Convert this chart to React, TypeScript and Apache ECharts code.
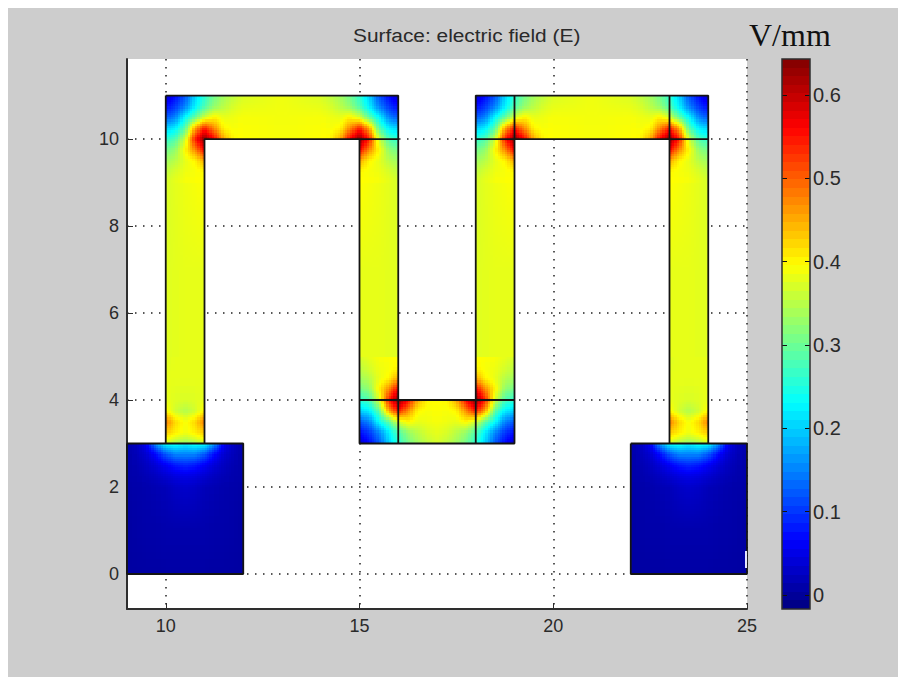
import React, { useEffect, useRef } from "react";
import * as echarts from "echarts";

// ---- tick labels
const xTicks = [10, 15, 20, 25];
const yTicks = [0, 2, 4, 6, 8, 10];
const barTicks = [0, 0.1, 0.2, 0.3, 0.4, 0.5, 0.6];
const fieldMin = -0.017;
const fieldMax = 0.643;
const titleText = "Surface: electric field (E)";
const unitText = "V/mm";

// ---- field values (V/mm)
// bend of the conductor: distance from outer corner along each side
const bendU = [0, 0.25, 0.5, 0.75, 1, 1.25, 1.5, 1.75, 2];
const bendField: (number | null)[][] = [
  [0.03, 0.07, 0.12, 0.20, 0.26, 0.305, 0.335, 0.355, 0.37],
  [0.07, 0.10, 0.15, 0.22, 0.28, 0.325, 0.35, 0.37, 0.38],
  [0.12, 0.15, 0.23, 0.29, 0.365, 0.40, 0.38, 0.385, 0.39],
  [0.20, 0.22, 0.29, 0.45, 0.54, 0.47, 0.40, 0.39, 0.395],
  [0.26, 0.28, 0.365, 0.54, 0.64, 0.56, 0.45, 0.40, 0.395],
  [0.305, 0.325, 0.40, 0.47, 0.56, null, null, null, null],
  [0.335, 0.35, 0.38, 0.40, 0.45, null, null, null, null],
  [0.355, 0.37, 0.385, 0.39, 0.40, null, null, null, null],
  [0.37, 0.38, 0.39, 0.395, 0.395, null, null, null, null],
];
// straight part of the top bars: across the bar, at three stations
const barAcross = [0, 0.5, 1];
const barField = [
  [0.37, 0.39, 0.395],
  [0.385, 0.388, 0.39],
  [0.37, 0.39, 0.395],
];
// legs: rows along the leg, columns across the leg (outer -> inner)
const legField = [
  [0.37, 0.385, 0.395],
  [0.375, 0.38, 0.38],
  [0.375, 0.38, 0.38],
];
// bottom of the outer legs
const footAcross = [0, 0.25, 0.5, 0.75, 1];
const footYs = [5, 4.5, 4, 3.75, 3.5, 3.25, 3];
const footField = [
  [0.375, 0.38, 0.38, 0.38, 0.38],
  [0.38, 0.38, 0.38, 0.38, 0.38],
  [0.38, 0.375, 0.37, 0.375, 0.38],
  [0.40, 0.365, 0.345, 0.365, 0.40],
  [0.48, 0.42, 0.39, 0.42, 0.48],
  [0.43, 0.405, 0.385, 0.405, 0.43],
  [0.37, 0.345, 0.33, 0.345, 0.37],
];
// contact pads: offset from pad centre, rows from the top of the pad
const padDx = [-1.5, -1.25, -1, -0.75, -0.5, -0.25, 0, 0.25, 0.5, 0.75, 1, 1.25, 1.5];
const padYs = [3, 2.75, 2.5, 2.25, 2, 1, 0];
const padField = [
  [0.01, 0.025, 0.06, 0.16, 0.23, 0.24, 0.22, 0.24, 0.23, 0.16, 0.06, 0.025, 0.01],
  [0.01, 0.02, 0.035, 0.07, 0.12, 0.15, 0.15, 0.15, 0.12, 0.07, 0.035, 0.02, 0.01],
  [0.01, 0.015, 0.025, 0.04, 0.06, 0.08, 0.09, 0.08, 0.06, 0.04, 0.025, 0.015, 0.01],
  [0.01, 0.012, 0.018, 0.025, 0.035, 0.045, 0.05, 0.045, 0.035, 0.025, 0.018, 0.012, 0.01],
  [0.008, 0.01, 0.012, 0.016, 0.02, 0.028, 0.032, 0.028, 0.02, 0.016, 0.012, 0.01, 0.008],
  [0.005, 0.008, 0.01, 0.01, 0.012, 0.012, 0.012, 0.012, 0.012, 0.01, 0.01, 0.008, 0.005],
  [0.005, 0.005, 0.006, 0.006, 0.007, 0.007, 0.007, 0.007, 0.007, 0.006, 0.006, 0.005, 0.005],
];
// where the pieces sit: [cornerX, cornerY, directionX, directionY]
const bends = [
  [10, 11, 1, -1],
  [16, 11, -1, -1],
  [18, 11, 1, -1],
  [24, 11, -1, -1],
  [15, 3, 1, 1],
  [19, 3, -1, 1],
];
// top bars: [startX, endX]
const barSpans = [
  [12, 14],
  [20, 22],
];
// legs: [outerX, innerX]
const legs = [
  [10, 11],
  [16, 15],
  [18, 19],
  [24, 23],
];
const footSpans = [
  [10, 11],
  [23, 24],
];
const padCentres = [10.5, 23.5];

// ---- mesh outlines
const outlines: number[][][] = [
  [[10, 11], [16, 11], [16, 3], [15, 3], [15, 10], [11, 10], [11, 3], [10, 3], [10, 11]],
  [[15, 10], [16, 10]],
  [[15, 3], [19, 3], [19, 11], [18, 11], [18, 3]],
  [[15, 4], [19, 4]],
  [[16, 3], [16, 4]],
  [[18, 11], [24, 11], [24, 3], [23, 3], [23, 11]],
  [[18, 10], [19, 10]],
  [[19, 10], [24, 10]],
  [[9, 3], [12, 3], [12, 0], [9, 0], [9, 3]],
  [[22, 3], [25, 3], [25, 0], [22, 0], [22, 3]],
];

// ---- jet colour map
const jetStops = [
  [0, 0, 128], [0, 0, 255], [0, 128, 255], [0, 255, 255], [128, 255, 128],
  [255, 255, 0], [255, 128, 0], [255, 0, 0], [128, 0, 0],
];
function jet(v: number): string {
  let t = (v - fieldMin) / (fieldMax - fieldMin);
  t = Math.max(0, Math.min(0.99999, t)) * (jetStops.length - 1);
  const i = Math.floor(t);
  const f = t - i;
  const a = jetStops[i];
  const b = jetStops[i + 1];
  const c = [0, 1, 2].map((k) => Math.round(a[k] + (b[k] - a[k]) * f));
  return `rgb(${c[0]},${c[1]},${c[2]})`;
}

// one cell: [x0, y0, x1, y1, v00, v10, v01, v11]
function pushCells(out: number[][], xs: number[], ys: number[], rows: (number | null)[][]) {
  for (let j = 0; j + 1 < ys.length; j++) {
    for (let i = 0; i + 1 < xs.length; i++) {
      const a = rows[j][i];
      const b = rows[j][i + 1];
      const c = rows[j + 1][i];
      const d = rows[j + 1][i + 1];
      if (a == null || b == null || c == null || d == null) continue;
      out.push([xs[i], ys[j], xs[i + 1], ys[j + 1], a, b, c, d]);
    }
  }
}

function buildCells(): number[][] {
  const out: number[][] = [];
  bends.forEach(([cx, cy, sx, sy]) => {
    pushCells(out, bendU.map((u) => cx + sx * u), bendU.map((w) => cy + sy * w), bendField);
  });
  barSpans.forEach(([x0, x1]) => {
    const xs = [x0, (x0 + x1) / 2, x1];
    const ys = barAcross.map((a) => 11 - a);
    const rows = ys.map((_, j) => barField.map((col) => col[j]));
    pushCells(out, xs, ys, rows);
  });
  legs.forEach(([outer, inner]) => {
    const xs = barAcross.map((a) => outer + (inner - outer) * a);
    pushCells(out, xs, [9, 7, 5], legField);
  });
  footSpans.forEach(([x0, x1]) => {
    const xs = footAcross.map((a) => x0 + (x1 - x0) * a);
    pushCells(out, xs, footYs, footField);
  });
  padCentres.forEach((c) => {
    pushCells(out, padDx.map((d) => c + d), padYs, padField);
  });
  return out;
}

function renderSurface(params: any, api: any) {
  const d = [0, 1, 2, 3, 4, 5, 6, 7].map((k) => api.value(k) as number);
  const p0 = api.coord([d[0], d[1]]);
  const p1 = api.coord([d[2], d[3]]);
  const spread = Math.max(d[4], d[5], d[6], d[7]) - Math.min(d[4], d[5], d[6], d[7]);
  const step = spread < 0.012 ? 8 : 2.5;
  const nx = Math.max(1, Math.ceil(Math.abs(p1[0] - p0[0]) / step));
  const ny = Math.max(1, Math.ceil(Math.abs(p1[1] - p0[1]) / step));
  const children: any[] = [];
  for (let j = 0; j < ny; j++) {
    const y0 = Math.round(p0[1] + ((p1[1] - p0[1]) * j) / ny);
    const y1 = Math.round(p0[1] + ((p1[1] - p0[1]) * (j + 1)) / ny);
    const fy = (j + 0.5) / ny;
    for (let i = 0; i < nx; i++) {
      const x0 = Math.round(p0[0] + ((p1[0] - p0[0]) * i) / nx);
      const x1 = Math.round(p0[0] + ((p1[0] - p0[0]) * (i + 1)) / nx);
      const fx = (i + 0.5) / nx;
      const v =
        d[4] * (1 - fx) * (1 - fy) + d[5] * fx * (1 - fy) + d[6] * (1 - fx) * fy + d[7] * fx * fy;
      children.push({
        type: "rect",
        shape: { x: Math.min(x0, x1), y: Math.min(y0, y1), width: Math.abs(x1 - x0), height: Math.abs(y1 - y0) },
        style: { fill: jet(v) },
      });
    }
  }
  return { type: "group", children };
}

function renderBar(params: any, api: any) {
  const lo = api.value(0);
  const hi = api.value(1);
  const p0 = api.coord([0, lo]);
  const p1 = api.coord([1, hi]);
  const y0 = Math.round(p1[1]);
  const y1 = Math.round(p0[1]);
  return {
    type: "rect",
    shape: { x: p0[0], y: y0, width: p1[0] - p0[0], height: y1 - y0 },
    style: { fill: jet((lo + hi) / 2) },
  };
}

const INK = "#2e2e2e";
const SANS = "'Liberation Sans', Arial, sans-serif";

export default function App() {
  const ref = useRef<HTMLDivElement>(null);
  useEffect(() => {
    document.documentElement.style.overflow = "hidden";
    const chart = echarts.init(ref.current!, undefined, { renderer: "svg", width: 890, height: 669 });
    const levels = 64;
    const barLevels: number[][] = [];
    for (let i = 0; i < levels; i++) {
      const w = (fieldMax - fieldMin) / levels;
      barLevels.push([fieldMin + i * w, fieldMin + (i + 1) * w]);
    }
    const outlineData: (number[] | null[])[] = [];
    outlines.forEach((o, i) => {
      if (i) outlineData.push([null, null] as any);
      o.forEach((p) => outlineData.push(p));
    });
    const dots = { color: "#222", width: 1.5, type: [1.5, 6.5] };
    chart.setOption({
      animation: false,
      backgroundColor: "#cdcdcd",
      grid: [
        { left: 119, top: 51, width: 620, height: 550, show: true, backgroundColor: "#ffffff", borderWidth: 0 },
        { left: 774, top: 51, width: 28, height: 550 },
      ],
      xAxis: [
        {
          type: "value",
          gridIndex: 0,
          min: 9,
          max: 25,
          axisLine: { show: true, onZero: false, lineStyle: { color: INK, width: 2 } },
          axisTick: { show: true, inside: true, length: 6, customValues: xTicks, lineStyle: { color: INK, width: 1 } },
          axisLabel: { customValues: xTicks, margin: 8, fontFamily: SANS, fontSize: 18, color: "#2a2a2a" },
          splitLine: { show: true, lineStyle: dots },
        },
        { type: "value", gridIndex: 1, min: 0, max: 1, show: false },
      ],
      yAxis: [
        {
          type: "value",
          gridIndex: 0,
          min: -0.805,
          max: 11.84,
          axisLine: { show: true, onZero: false, lineStyle: { color: INK, width: 2 } },
          axisTick: { show: true, inside: true, length: 6, customValues: yTicks, lineStyle: { color: INK, width: 1 } },
          axisLabel: { customValues: yTicks, margin: 8, fontFamily: SANS, fontSize: 18, color: "#2a2a2a" },
          splitLine: { show: true, lineStyle: dots },
        },
        {
          type: "value",
          gridIndex: 1,
          position: "left",
          min: fieldMin,
          max: fieldMax,
          z: 5,
          axisLine: { show: false },
          axisTick: { show: true, inside: true, length: 5, customValues: barTicks, lineStyle: { color: "#111", width: 1 } },
          axisLabel: { show: false },
          splitLine: { show: false },
        },
        {
          type: "value",
          gridIndex: 1,
          position: "right",
          min: fieldMin,
          max: fieldMax,
          z: 5,
          axisLine: { show: false },
          axisTick: { show: true, inside: true, length: 5, customValues: barTicks, lineStyle: { color: "#111", width: 1 } },
          axisLabel: { customValues: barTicks, margin: 3, fontFamily: SANS, fontSize: 20, color: "#2a2a2a" },
          splitLine: { show: false },
        },
      ],
      series: [
        {
          type: "custom",
          name: "E",
          xAxisIndex: 0,
          yAxisIndex: 0,
          silent: true,
          z: 2,
          clip: false,
          renderItem: renderSurface,
          encode: { x: [0, 2], y: [1, 3] },
          data: buildCells(),
        },
        {
          type: "line",
          name: "mesh",
          xAxisIndex: 0,
          yAxisIndex: 0,
          silent: true,
          z: 4,
          showSymbol: false,
          connectNulls: false,
          lineStyle: { color: "#141414", width: 1.8 },
          data: outlineData,
        },
        {
          type: "custom",
          name: "colorbar",
          xAxisIndex: 1,
          yAxisIndex: 1,
          silent: true,
          z: 2,
          renderItem: renderBar,
          encode: { y: [0, 1] },
          data: barLevels,
        },
      ],
      graphic: [
        {
          type: "text",
          x: 345,
          y: 19,
          scaleX: 1.16,
          style: { text: titleText, font: "18px 'Liberation Sans', Arial, sans-serif", fill: "#2a2a2a" },
        },
        {
          type: "text",
          x: 741,
          y: 11,
          style: { text: unitText, font: "32px 'Liberation Serif', 'Times New Roman', serif", fill: "#111" },
        },
        {
          type: "rect",
          z: 10,
          shape: { x: 774, y: 51, width: 28, height: 550 },
          style: { fill: "none", stroke: "#2e2e2e", lineWidth: 1.5 },
        },
        { type: "rect", z: 10, shape: { x: 737, y: 543, width: 2, height: 17 }, style: { fill: "#e6e6ff" } },
      ],
    });
    return () => chart.dispose();
  }, []);
  return <div ref={ref} style={{ position: "absolute", left: 8, top: 8, width: 890, height: 669, background: "#cdcdcd" }} />;
}
